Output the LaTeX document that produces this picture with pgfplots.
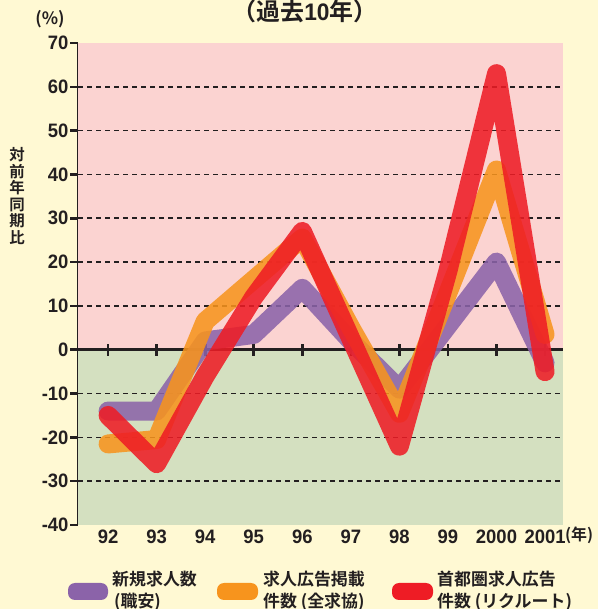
\documentclass[border=0pt]{standalone}
\usepackage{fontspec}
\usepackage{pgfplots}
\usepackage{pgfplotstable}
\pgfplotsset{compat=1.18}
\setmainfont{Liberation Sans}
\newfontfamily\num{Liberation Sans Bold}[FakeStretch=0.95]
\newfontfamily\jp{Noto Sans CJK JP}[UprightFont={* Bold}]

\definecolor{cream}{HTML}{FFF9D3}
\definecolor{upper}{HTML}{FBD3D1}
\definecolor{lower}{HTML}{D4E0C0}
\definecolor{shokuan}{HTML}{8B63A9}
\definecolor{zenkyu}{HTML}{F7941D}
\definecolor{recruit}{HTML}{EE1C25}
\definecolor{ink}{HTML}{231F20}

% year-on-year change (%), 1992-2001
\pgfplotstableread{
x shokuan zenkyu recruit
0 -14   -21.5 -15
1 -14   -20.5 -26
2  2     6.5   -6
3  3.5  16     12
4 14    25.5   27
5  2     5      2.5
6 -9   -14.5  -22
7  5.5  13     18
8 20    41     63
9 -3     3.5   -5
}\yoy

\begin{document}
\begin{tikzpicture}[x=1bp,y=1bp]
\useasboundingbox (0,0) rectangle (598,609);
\fill[cream] (0,0) rectangle (598,609);

\begin{axis}[
  at={(78bp,84bp)}, anchor=south west,
  width=485bp, height=482bp, scale only axis,
  xmin=-0.62, xmax=9.37, ymin=-40, ymax=70,
  axis x line=bottom, axis y line=left,
  axis line style={-, line width=2.6bp, ink},
  x axis line style={draw=none},
  xtick={0,...,9},
  xticklabels={92,93,94,95,96,97,98,99,2000,2001},
  xtick style={draw=none},
  ytick={-40,-30,...,70},
  yticklabels={-40,-30,-20,-10,0,10,20,30,40,50,60,70},
  ytick style={line width=2.6bp, ink},
  tick align=outside, major tick length=8bp,
  ticklabel style={font=\num\fontsize{19.5}{19.5}\selectfont, text=ink},
  xticklabel style={yshift=7bp},
  yticklabel style={xshift=2bp},
]
\fill[upper] (axis cs:-0.62,0) rectangle (axis cs:9.37,70);
\fill[lower] (axis cs:-0.62,-40) rectangle (axis cs:9.37,0);
\pgfplotsinvokeforeach{-30,-20,-10,10,20,30,40,50,60}{
  \draw[ink, line width=1.6bp, dash pattern=on 5bp off 4bp]
    (axis cs:-0.62,#1) -- (axis cs:9.37,#1);
}
\draw[ink, line width=2.6bp] (axis cs:-0.62,0) -- (axis cs:9.37,0);
\pgfplotsinvokeforeach{0,...,9}{
  \draw[ink, line width=2.6bp] (axis cs:#1,0) ++(0bp,-6bp) -- ++(0bp,12bp);
}
\addplot[shokuan, line width=19bp, opacity=0.87, line cap=round, line join=round]
  table[x=x, y=shokuan]{\yoy};
\addplot[zenkyu, line width=19bp, opacity=0.87, line cap=round, line join=round]
  table[x=x, y=zenkyu]{\yoy};
\addplot[recruit, line width=19bp, opacity=0.87, line cap=round, line join=round]
  table[x=x, y=recruit]{\yoy};
\end{axis}

% titles and axis captions
\node[anchor=base, font=\jp\fontsize{24}{24}\selectfont, text=ink] at (305,588)
  {（過去{\num 10}年）};
\node[font=\jp\fontsize{17}{17}\selectfont, text=ink] at (50,590) {(\%)};
\node[align=center, font=\jp\fontsize{15.5}{16.5}\selectfont, text=ink] at (17,413)
  {対\\前\\年\\同\\期\\比};
\node[anchor=west, font=\jp\fontsize{16}{16}\selectfont, text=ink, inner sep=0pt] at (565,74) {(年)};

% legend
\fill[shokuan, rounded corners=7bp] (68,9) rectangle (108,26);
\fill[zenkyu, rounded corners=7bp] (217,9) rectangle (258,26);
\fill[recruit, rounded corners=7bp] (392,9) rectangle (433,26);
\begin{scope}[every node/.style={anchor=west, inner sep=0pt, text=ink,
    font=\jp\fontsize{17}{17}\selectfont}]
  \node at (112,30) {新規求人数};
  \node at (114,7) {(職安)};
  \node at (263,30) {求人広告掲載};
  \node at (263,7) {件数 (全求協)};
  \node at (437,30) {首都圏求人広告};
  \node at (437,7) {件数 (リクルート)};
\end{scope}
\end{tikzpicture}
\end{document}
